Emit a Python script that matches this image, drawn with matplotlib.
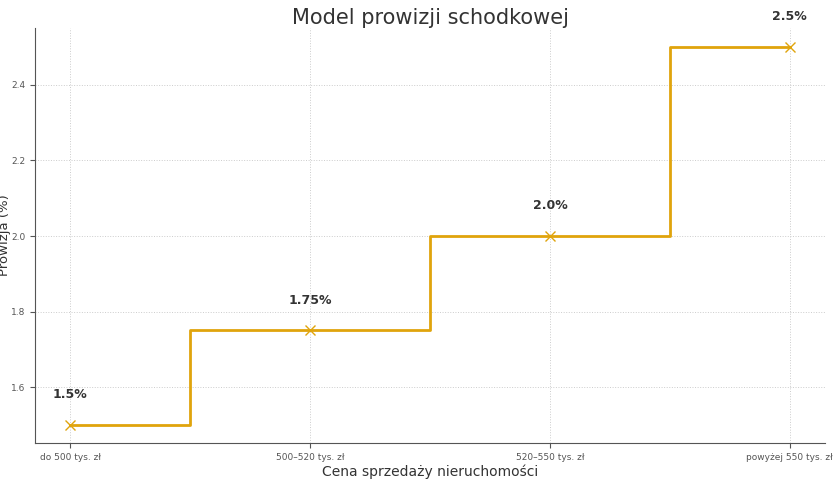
import matplotlib
matplotlib.use("Agg")
import matplotlib.pyplot as plt

categories = ["do 500 tys. zł", "500–520 tys. zł", "520–550 tys. zł", "powyżej 550 tys. zł"]
commission = [1.5, 1.75, 2.0, 2.5]
labels = ["1.5%", "1.75%", "2.0%", "2.5%"]

fig = plt.figure(figsize=(8.4, 4.8), dpi=100)
ax = fig.add_axes([0.042, 0.077, 0.94, 0.865])
x = list(range(len(categories)))
color = "#e0a40c"
ax.step(x, commission, where="mid", color=color, linewidth=2)
ax.plot(x, commission, "x", color=color, markersize=7)
for xi, v, lab in zip(x, commission, labels):
    ax.text(xi, v + 0.08, lab, ha="center", va="center", fontsize=9, fontweight="bold", color="#333333")

ax.set_xlim(-0.146, 3.146)
ax.set_ylim(1.452, 2.551)
ax.set_xticks(x)
ax.set_xticklabels(categories, fontsize=6.5, color="#333333")
ax.set_yticks([1.6, 1.8, 2.0, 2.2, 2.4])
ax.tick_params(axis="y", labelsize=6.5, labelcolor="#333333")
ax.tick_params(colors="#555555")
ax.grid(True, linestyle=":", color="#cccccc", linewidth=0.7)
for s in ["top", "right"]:
    ax.spines[s].set_visible(False)
for s in ["left", "bottom"]:
    ax.spines[s].set_color("#555555")
ax.set_xlabel("Cena sprzedaży nieruchomości", fontsize=10, labelpad=2, color="#333333")
ax.set_ylabel("Prowizja (%)", fontsize=9.5, labelpad=0, color="#333333")
ax.set_title("Model prowizji schodkowej", fontsize=15, color="#333333", pad=2)
fig.savefig("out.png")
